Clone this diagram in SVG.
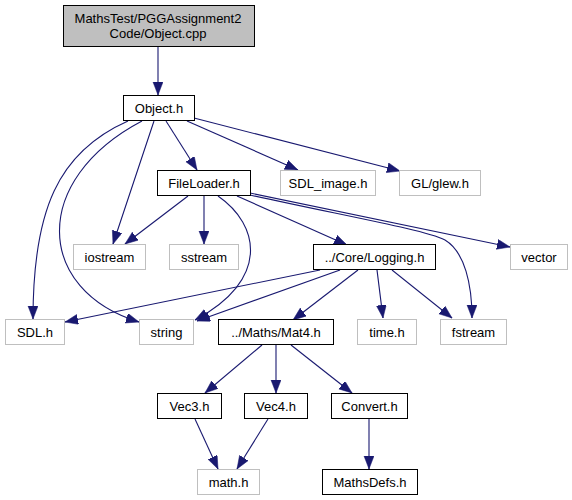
<svg xmlns="http://www.w3.org/2000/svg" width="572" height="500" viewBox="0 0 572 500">
<style>
.n rect{fill:#ffffff;stroke:#000000;stroke-width:1}
.n.g rect{stroke:#bfbfbf}
.n.root rect{fill:#bfbfbf}
text{font-family:"Liberation Sans",Arial,sans-serif;font-size:13px;fill:#000000;text-anchor:middle}
.e path{fill:none;stroke:#191970;stroke-width:1.1}
</style>
<defs>
<marker id="a" markerUnits="userSpaceOnUse" markerWidth="14" markerHeight="11" refX="13" refY="5" orient="auto">
<path d="M0,0 L13,5 L0,10 z" fill="#191970" stroke="#191970" stroke-width="0.5"/>
</marker>
</defs>
<rect width="572" height="500" fill="#ffffff"/>
<g id="edges" class="e">
<path d="M158,46 L158,95" marker-end="url(#a)"/>
<path d="M128,121 C58,152 33,210 33,319" marker-end="url(#a)"/>
<path d="M142,121 C30,180 35,290 139,322" marker-end="url(#a)"/>
<path d="M154,121 L113,244" marker-end="url(#a)"/>
<path d="M166,121 L197,170" marker-end="url(#a)"/>
<path d="M187,121 L298,170" marker-end="url(#a)"/>
<path d="M194,118 L400,171" marker-end="url(#a)"/>
<path d="M188,196 L125,244" marker-end="url(#a)"/>
<path d="M204,196 L204,244" marker-end="url(#a)"/>
<path d="M218,196 C260,225 270,280 195,320" marker-end="url(#a)"/>
<path d="M237,196 L347,245" marker-end="url(#a)"/>
<path d="M250,193 L510,247" marker-end="url(#a)"/>
<path d="M250,195 C350,217 425,230 445,240 C465,252 472,285 472,318" marker-end="url(#a)"/>
<path d="M320,270 L65,322" marker-end="url(#a)"/>
<path d="M340,270 L197,321" marker-end="url(#a)"/>
<path d="M358,270 L293,320" marker-end="url(#a)"/>
<path d="M377,270 L383,318" marker-end="url(#a)"/>
<path d="M392,270 L452,318" marker-end="url(#a)"/>
<path d="M262,345 L205,393" marker-end="url(#a)"/>
<path d="M276,345 L276,393" marker-end="url(#a)"/>
<path d="M291,345 L352,393" marker-end="url(#a)"/>
<path d="M195,419 L218,469" marker-end="url(#a)"/>
<path d="M268,419 L237,469" marker-end="url(#a)"/>
<path d="M369,419 L369,469" marker-end="url(#a)"/>
</g>
<g id="object_cpp" class="n root"><rect x="63.5" y="5.5" width="191" height="41"/><text x="158" y="23">MathsTest/PGGAssignment2</text><text x="158" y="38">Code/Object.cpp</text></g>
<g id="object_h" class="n"><rect x="123.5" y="95.5" width="71" height="25"/><text x="159" y="112.5">Object.h</text></g>
<g id="fileloader_h" class="n"><rect x="157.5" y="170.5" width="93" height="25"/><text x="204" y="187.5">FileLoader.h</text></g>
<g id="sdl_image_h" class="n g"><rect x="280.5" y="170.5" width="95" height="25"/><text x="328" y="187.5">SDL_image.h</text></g>
<g id="gl_glew_h" class="n g"><rect x="399.5" y="170.5" width="81" height="25"/><text x="440" y="187.5">GL/glew.h</text></g>
<g id="iostream" class="n g"><rect x="73.5" y="244.5" width="72" height="25"/><text x="109.5" y="261.5">iostream</text></g>
<g id="sstream" class="n g"><rect x="169.5" y="244.5" width="69" height="25"/><text x="204" y="261.5">sstream</text></g>
<g id="logging_h" class="n"><rect x="313.5" y="244.5" width="122" height="25"/><text x="374.5" y="261.5">../Core/Logging.h</text></g>
<g id="vector" class="n g"><rect x="510.5" y="244.5" width="57" height="25"/><text x="539" y="261.5">vector</text></g>
<g id="sdl_h" class="n g"><rect x="5.5" y="319.5" width="59" height="25"/><text x="35" y="336.5">SDL.h</text></g>
<g id="string" class="n g"><rect x="139.5" y="319.5" width="54" height="25"/><text x="166.5" y="336.5">string</text></g>
<g id="mat4_h" class="n"><rect x="218.5" y="319.5" width="115" height="25"/><text x="276" y="336.5">../Maths/Mat4.h</text></g>
<g id="time_h" class="n g"><rect x="357.5" y="319.5" width="59" height="25"/><text x="387" y="336.5">time.h</text></g>
<g id="fstream" class="n g"><rect x="440.5" y="319.5" width="66" height="25"/><text x="473.5" y="336.5">fstream</text></g>
<g id="vec3_h" class="n"><rect x="157.5" y="393.5" width="64" height="25"/><text x="189.5" y="410.5">Vec3.h</text></g>
<g id="vec4_h" class="n"><rect x="244.5" y="393.5" width="63" height="25"/><text x="276" y="410.5">Vec4.h</text></g>
<g id="convert_h" class="n"><rect x="331.5" y="393.5" width="76" height="25"/><text x="369.5" y="410.5">Convert.h</text></g>
<g id="math_h" class="n g"><rect x="197.5" y="469.5" width="62" height="25"/><text x="228.5" y="486.5">math.h</text></g>
<g id="mathsdefs_h" class="n"><rect x="322.5" y="469.5" width="95" height="25"/><text x="370" y="486.5">MathsDefs.h</text></g>
</svg>
